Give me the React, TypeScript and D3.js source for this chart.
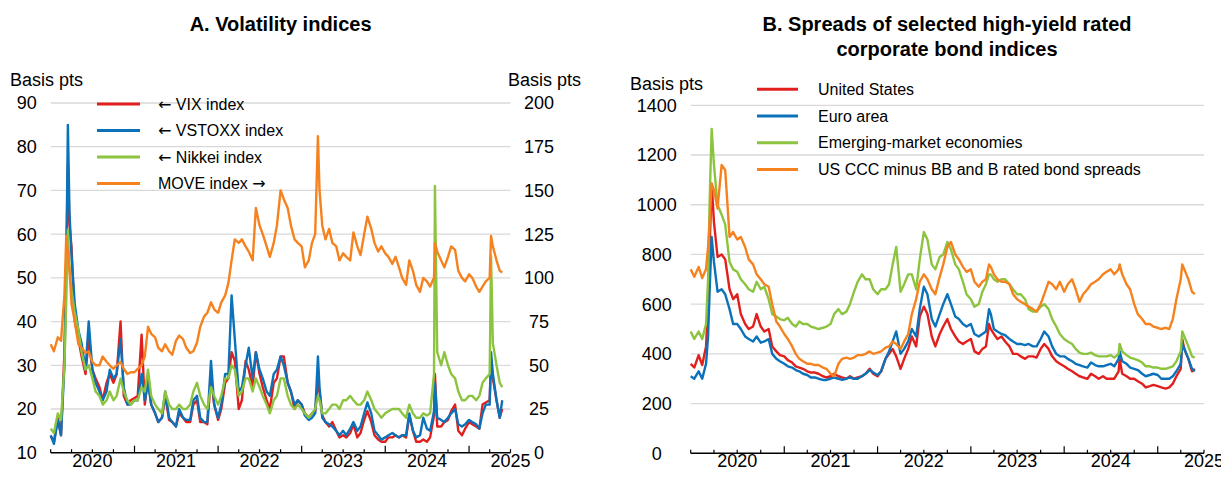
import React from 'react';
import * as d3 from 'd3';

const W = 1221;
const H = 478;
const FONT = '"Liberation Sans", Arial, Helvetica, sans-serif';
const ARROW_FONT = '"DejaVu Sans", sans-serif';

const RED = '#e1201d';
const BLUE = '#0b72b9';
const GREEN = '#8cc43f';
const ORANGE = '#f5821f';
const GRID = '#d9d9d9';

// shared observation dates (semi-monthly, plus a few stress days)
const dates = [
  // 2020
  '2020-01-01', '2020-01-15', '2020-02-01', '2020-02-15', '2020-03-01', '2020-03-09', '2020-03-16', '2020-03-23',
  '2020-04-01', '2020-04-15', '2020-05-01', '2020-05-15', '2020-06-01', '2020-06-15', '2020-07-01', '2020-07-15',
  '2020-08-01', '2020-08-15', '2020-09-01', '2020-09-15', '2020-10-01', '2020-10-15', '2020-11-01', '2020-11-15',
  '2020-12-01', '2020-12-15',
  // 2021
  '2021-01-01', '2021-01-15', '2021-02-01', '2021-02-15', '2021-03-01', '2021-03-15', '2021-04-01', '2021-04-15',
  '2021-05-01', '2021-05-15', '2021-06-01', '2021-06-15', '2021-07-01', '2021-07-15', '2021-08-01', '2021-08-15',
  '2021-09-01', '2021-09-15', '2021-10-01', '2021-10-15', '2021-11-01', '2021-11-15', '2021-12-01', '2021-12-15',
  // 2022
  '2022-01-01', '2022-01-15', '2022-02-01', '2022-02-15', '2022-03-01', '2022-03-15', '2022-04-01', '2022-04-15',
  '2022-05-01', '2022-05-15', '2022-06-01', '2022-06-15', '2022-07-01', '2022-07-15', '2022-08-01', '2022-08-15',
  '2022-09-01', '2022-09-15', '2022-10-01', '2022-10-15', '2022-11-01', '2022-11-15', '2022-12-01', '2022-12-15',
  // 2023
  '2023-01-01', '2023-01-15', '2023-02-01', '2023-02-15', '2023-03-01', '2023-03-13', '2023-03-20', '2023-04-01',
  '2023-04-15', '2023-05-01', '2023-05-15', '2023-06-01', '2023-06-15', '2023-07-01', '2023-07-15', '2023-08-01',
  '2023-08-15', '2023-09-01', '2023-09-15', '2023-10-01', '2023-10-15', '2023-11-01', '2023-11-15', '2023-12-01',
  '2023-12-15',
  // 2024
  '2024-01-01', '2024-01-15', '2024-02-01', '2024-02-15', '2024-03-01', '2024-03-15', '2024-04-01', '2024-04-15',
  '2024-05-01', '2024-05-15', '2024-06-01', '2024-06-15', '2024-07-01', '2024-07-15', '2024-08-01', '2024-08-05',
  '2024-08-15', '2024-09-01', '2024-09-15', '2024-10-01', '2024-10-15', '2024-11-01', '2024-11-15', '2024-12-01',
  '2024-12-15',
  // 2025
  '2025-01-01', '2025-01-15', '2025-02-01', '2025-02-15', '2025-03-01', '2025-03-15', '2025-04-01', '2025-04-07',
  '2025-04-15', '2025-05-01', '2025-05-15', '2025-05-26',
];

// Panel A: volatility indices
const vix = [
  13.8, 12.5, 18.0, 14.0, 33.0, 54.0, 76.0, 62.0, 57.0, 40.0, 36.0, 32.0, 28.0, 36.0, 29.0, 27.0, 25.0, 22.0, 26.0, 28.0, 26.0, 28.0, 40.0, 23.0, 21.0, 22.0,
  22.5, 23.0, 37.0, 21.0, 27.0, 21.0, 19.0, 17.0, 18.0, 23.0, 17.5, 17.0, 16.0, 19.0, 18.0, 17.0, 17.0, 21.0, 22.0, 17.0, 17.0, 16.5, 27.0, 21.0,
  17.5, 20.0, 26.0, 27.0, 33.0, 31.0, 20.0, 22.0, 31.0, 29.0, 25.0, 33.0, 28.0, 25.0, 22.0, 20.0, 26.0, 27.0, 32.0, 32.0, 26.0, 24.0, 20.0, 22.0,
  21.0, 19.0, 18.0, 19.0, 19.5, 26.5, 24.0, 18.5, 17.0, 16.0, 17.0, 15.0, 13.5, 14.0, 13.5, 14.5, 16.5, 13.5, 14.5, 17.5, 19.5, 17.0, 14.0, 13.0, 12.5,
  12.5, 13.5, 13.5, 14.0, 13.5, 14.0, 13.5, 18.5, 15.0, 12.5, 12.5, 13.0, 12.5, 13.5, 18.5, 28.0, 16.0, 16.0, 17.0, 17.5, 19.5, 21.0, 15.0, 14.0, 15.5,
  17.0, 16.5, 16.0, 15.5, 21.0, 21.5, 22.0, 31.0, 27.0, 22.0, 18.0, 20.0,
];
const vstoxx = [
  14.0, 12.0, 17.5, 14.0, 30.0, 52.0, 85.0, 65.0, 55.0, 44.0, 38.0, 35.0, 29.0, 40.0, 29.0, 26.0, 24.0, 22.0, 24.0, 29.0, 27.0, 28.0, 36.0, 25.0, 21.0, 21.0,
  22.0, 22.0, 28.0, 22.0, 26.0, 21.0, 19.0, 17.0, 18.0, 24.0, 18.0, 17.0, 16.0, 20.0, 18.0, 17.5, 17.5, 22.0, 23.0, 18.0, 17.0, 17.0, 31.0, 21.0,
  18.0, 21.0, 28.0, 28.0, 46.0, 36.0, 24.0, 25.0, 30.0, 34.0, 27.0, 33.0, 29.0, 27.0, 24.0, 23.0, 28.0, 29.0, 32.0, 30.0, 26.0, 24.0, 21.0, 22.0,
  21.0, 18.5, 17.5, 18.0, 19.0, 32.0, 25.0, 18.0, 17.0, 16.5, 16.0, 15.0, 14.0, 15.0, 14.0, 15.5, 17.0, 15.0, 16.0, 19.0, 21.5, 19.0, 15.0, 14.0, 13.0,
  13.5, 14.0, 14.5, 14.0, 13.5, 14.0, 14.0, 19.0, 15.0, 13.5, 14.0, 18.0, 15.5, 15.0, 19.5, 26.0, 18.0, 17.5, 17.0, 18.0, 19.0, 20.0, 16.5, 16.0, 16.5,
  17.5, 17.0, 16.5, 15.5, 19.0, 21.0, 21.0, 33.0, 28.0, 22.0, 18.0, 22.0,
];
const nikkei = [
  15.5, 14.5, 19.0, 17.5, 30.0, 45.0, 61.0, 52.0, 47.0, 42.0, 38.0, 33.0, 29.0, 30.0, 27.0, 24.0, 23.0, 21.0, 22.0, 24.0, 22.0, 23.0, 27.0, 24.0, 22.0, 21.0,
  22.0, 22.0, 25.0, 24.0, 29.0, 23.0, 21.0, 20.0, 19.0, 24.0, 21.0, 20.0, 20.0, 21.0, 20.0, 20.0, 21.0, 24.0, 26.0, 23.0, 21.0, 20.0, 25.0, 23.0,
  21.0, 23.0, 27.0, 27.0, 30.0, 29.0, 23.0, 24.0, 27.0, 27.0, 24.0, 27.0, 25.0, 23.0, 21.0, 19.0, 22.0, 23.0, 27.0, 27.0, 23.0, 21.0, 20.0, 21.0,
  20.0, 19.0, 18.0, 19.0, 20.0, 23.0, 22.0, 19.0, 19.0, 20.0, 21.0, 21.0, 20.0, 22.0, 22.0, 23.0, 22.0, 21.0, 21.0, 22.0, 24.0, 22.0, 20.0, 19.0, 18.0,
  19.0, 19.5, 20.0, 20.0, 20.0, 19.0, 18.0, 21.0, 19.0, 18.0, 18.0, 19.0, 18.5, 19.0, 28.0, 71.0, 33.0, 30.0, 33.0, 30.0, 28.0, 27.0, 24.0, 22.0, 22.0,
  23.0, 23.0, 22.0, 23.0, 26.0, 27.0, 28.0, 55.0, 35.0, 30.0, 26.0, 25.0,
];
const move = [
  62, 58, 66, 64, 90, 124, 115, 105, 85, 75, 62, 60, 57, 58, 52, 50, 50, 55, 52, 50, 48, 50, 52, 48, 45, 46,
  46, 48, 50, 55, 72, 68, 66, 60, 58, 62, 58, 56, 64, 67, 65, 60, 57, 58, 63, 72, 78, 80, 86, 82,
  80, 86, 90, 97, 110, 122, 120, 122, 118, 115, 110, 140, 130, 125, 118, 112, 120, 130, 150, 145, 140, 130, 122, 120,
  118, 106, 110, 120, 125, 181, 150, 130, 122, 128, 120, 118, 110, 114, 112, 110, 126, 118, 113, 125, 135, 128, 120, 115, 118,
  114, 112, 108, 112, 106, 100, 96, 110, 104, 96, 92, 100, 98, 95, 100, 120, 115, 110, 106, 112, 118, 116, 104, 100, 98,
  102, 100, 95, 92, 95, 98, 100, 124, 118, 110, 104, 103,
];

// Panel B: high-yield spreads
const usHY = [
  360, 345, 395, 355, 430, 600, 860, 1085, 930, 790, 800, 780, 660, 620, 640, 560, 520, 500, 510, 560, 510, 490, 500, 430, 410, 395,
  390, 375, 365, 350, 345, 340, 330, 325, 325, 320, 310, 305, 310, 320, 310, 305, 300, 310, 300, 305, 310, 320, 340, 320,
  310, 330, 380, 400, 420, 390, 340, 380, 420, 470, 430, 550, 590, 560, 470, 430, 480, 510, 540, 500, 470, 450, 440, 450,
  460, 410, 400, 420, 430, 520, 500, 480, 460, 470, 450, 430, 400, 400, 390, 380, 390, 390, 385, 420, 440, 420, 390, 370, 360,
  350, 340, 330, 320, 310, 305, 300, 320, 310, 300, 310, 300, 300, 300, 330, 380, 320, 310, 300, 300, 290, 280, 265, 270, 275,
  270, 265, 260, 265, 280, 310, 340, 460, 420, 380, 330, 340,
];
const euroHY = [
  310, 300, 330, 300, 360, 470, 680, 870, 770, 650, 660, 640, 580, 520, 520, 500, 470, 460, 450, 470, 445, 450, 460, 400, 380, 370,
  360, 350, 345, 335, 330, 320, 315, 305, 305, 300, 295, 295, 300, 305, 300, 295, 300, 305, 300, 300, 310, 320, 335, 325,
  315, 330, 380, 410, 450, 490, 400, 420, 450, 500, 470, 580, 670, 640, 540, 510, 560, 600, 640, 600, 550, 540, 520, 510,
  520, 480, 470, 480, 490, 580, 560, 500, 490, 480, 475, 460, 450, 440, 440, 435, 440, 430, 430, 460, 490, 470, 430, 400, 390,
  390, 380, 370, 360, 355, 350, 345, 365, 355, 350, 350, 355, 360, 350, 380, 410, 370, 360, 345, 340, 335, 320, 310, 315, 320,
  315, 300, 300, 300, 310, 330, 360, 440, 420, 380, 340, 330,
];
const emHY = [
  490, 460, 490, 460, 520, 700, 1050, 1305, 1160, 1000, 960, 920, 770, 740, 730, 700, 680, 660, 650, 690, 660, 670, 620, 560, 550, 540,
  535, 545, 520, 510, 530, 520, 520, 510, 505, 500, 505, 510, 520, 560, 580, 560, 570, 600, 650, 690, 720, 700, 700, 660,
  640, 660, 660, 680, 760, 830, 650, 680, 720, 720, 660, 780, 890, 860, 760, 740, 790, 800, 850, 820, 760, 740, 690, 640,
  620, 590, 600, 650, 680, 720, 720, 700, 690, 700, 700, 680, 660, 640, 640, 620, 580, 570, 570, 590, 600, 580, 540, 510, 480,
  460, 450, 440, 420, 405, 400, 400, 405, 395, 390, 390, 390, 395, 385, 400, 440, 410, 395, 385, 380, 375, 365, 350, 350, 345,
  345, 340, 340, 345, 350, 370, 410, 490, 470, 430, 390, 385,
];
const cccSpread = [
  740, 710, 750, 705, 740, 830, 950, 1085, 1060, 985, 1160, 1140, 870, 890, 860, 870, 830, 780, 760, 720, 700, 680, 670, 600, 530, 510,
  480, 460, 430, 400, 380, 370, 360, 360, 355, 355, 345, 340, 320, 310, 360, 380, 385, 380, 385, 395, 395, 400, 410, 400,
  405, 410, 425, 430, 450, 440, 420, 450, 480, 560, 620, 690, 720, 700, 660, 640, 710, 760, 830, 850, 800, 780, 750, 730,
  740, 690, 670, 690, 700, 760, 750, 720, 700, 690, 690, 680, 640, 620, 610, 600, 590, 580, 570, 600, 640, 690, 680, 660, 690,
  650, 680, 700, 660, 610, 640, 660, 680, 690, 700, 720, 730, 740, 720, 740, 760, 720, 680, 660, 600, 560, 540, 520, 520, 510,
  505, 500, 505, 500, 540, 620, 700, 760, 740, 700, 650, 640,
];

const yearLabels = ['2020', '2021', '2022', '2023', '2024', '2025'];
const leftTicksA = [10, 20, 30, 40, 50, 60, 70, 80, 90];
const rightTicksA = [0, 25, 50, 75, 100, 125, 150, 175, 200];
const ticksB = [0, 200, 400, 600, 800, 1000, 1200, 1400];

// arrow: 'l' = points to left axis, 'r' = points to right axis
const legendA = [
  { label: 'VIX index', arrow: 'l', color: RED },
  { label: 'VSTOXX index', arrow: 'l', color: BLUE },
  { label: 'Nikkei index', arrow: 'l', color: GREEN },
  { label: 'MOVE index', arrow: 'r', color: ORANGE },
];
const legendB = [
  { label: 'United States', color: RED },
  { label: 'Euro area', color: BLUE },
  { label: 'Emerging-market economies', color: GREEN },
  { label: 'US CCC minus BB and B rated bond spreads', color: ORANGE },
];

const parse = d3.timeParse('%Y-%m-%d');
const times = dates.map(d => parse(d) as Date);
const X0 = parse('2020-01-01') as Date;
const X1 = parse('2025-07-01') as Date;

function TimeAxis({ x, y }: { x: d3.ScaleTime<number, number>; y: number }) {
  const quarters = d3.timeMonth.every(3)!.range(X0, d3.timeDay.offset(X1, 1));
  const [l, r] = x.range();
  return (
    <g>
      <line x1={l} x2={r} y1={y} y2={y} stroke="#000" strokeWidth={1.6} />
      {quarters.map((q, i) => {
        const tall = q.getMonth() === 0 && i > 0;
        return <line key={i} x1={x(q)} x2={x(q)} y1={y} y2={y - (tall ? 7 : 3.5)} stroke="#000" strokeWidth={1.2} />;
      })}
      {yearLabels.map(yl => (
        <text key={yl} x={x(parse(`${yl}-07-01`) as Date)} y={y + 14} textAnchor="middle" fontSize={18} fill="#000">
          {yl}
        </text>
      ))}
    </g>
  );
}

function Series({ x, y, values, color }: any) {
  const line = d3.line<number>()
    .x((_, i) => x(times[i]))
    .y(v => y(v));
  return <path d={line(values) || ''} fill="none" stroke={color} strokeWidth={2.4} strokeLinejoin="round" />;
}

export default function App() {
  // panel A geometry
  const xA = d3.scaleTime().domain([X0, X1]).range([50.7, 510.5]);
  const yA = d3.scaleLinear().domain([10, 90]).range([452.7, 103]);
  const yA2 = d3.scaleLinear().domain([0, 200]).range([452.7, 103]);

  // panel B geometry
  const xB = d3.scaleTime().domain([X0, X1]).range([690.7, 1204]);
  const yB = d3.scaleLinear().domain([0, 1400]).range([453.3, 105.3]);

  return (
    <svg
      width={W}
      height={H}
      viewBox={`0 0 ${W} ${H}`}
      style={{ position: 'absolute', left: 0, top: 0, background: '#fff' }}
      fontFamily={FONT}
    >
      <rect width={W} height={H} fill="#fff" />

      {/* Panel A */}
      <text x={280.6} y={31} textAnchor="middle" fontSize={20} fontWeight="bold">A. Volatility indices</text>
      <text x={10} y={86} fontSize={18}>Basis pts</text>
      <text x={508} y={86} fontSize={18}>Basis pts</text>
      {leftTicksA.slice(1).map(t => (
        <line key={t} x1={50.7} x2={510.5} y1={yA(t)} y2={yA(t)} stroke={GRID} strokeWidth={1.3} />
      ))}
      {leftTicksA.map(t => (
        <text key={t} x={26.7} y={yA(t)} dy="0.36em" textAnchor="middle" fontSize={18}>{t}</text>
      ))}
      {rightTicksA.map(t => (
        <text key={t} x={539} y={yA2(t)} dy="0.36em" textAnchor="middle" fontSize={18}>{t}</text>
      ))}
      <Series x={xA} y={yA} values={vix} color={RED} />
      <Series x={xA} y={yA} values={vstoxx} color={BLUE} />
      <Series x={xA} y={yA} values={nikkei} color={GREEN} />
      <Series x={xA} y={yA2} values={move} color={ORANGE} />
      <TimeAxis x={xA} y={452.7} />
      {legendA.map((d, i) => (
        <g key={d.label} transform={`translate(0,${104 + i * 26.5})`}>
          <line x1={97} x2={140} y1={0} y2={0} stroke={d.color} strokeWidth={3} />
          <text x={158} y={0} dy="0.35em" fontSize={16}>
            {d.arrow === 'l' && <tspan fontFamily={ARROW_FONT}>{'\u2190'}</tspan>}
            {d.arrow === 'l' ? ` ${d.label}` : `${d.label} `}
            {d.arrow === 'r' && <tspan fontFamily={ARROW_FONT}>{'\u2192'}</tspan>}
          </text>
        </g>
      ))}

      {/* Panel B */}
      <text x={947} y={31} textAnchor="middle" fontSize={20} fontWeight="bold">B. Spreads of selected high-yield rated</text>
      <text x={947} y={56} textAnchor="middle" fontSize={20} fontWeight="bold">corporate bond indices</text>
      <text x={630} y={90} fontSize={18}>Basis pts</text>
      {ticksB.slice(1).map(t => (
        <line key={t} x1={690.7} x2={1204} y1={yB(t)} y2={yB(t)} stroke={GRID} strokeWidth={1.3} />
      ))}
      {ticksB.map(t => (
        <text key={t} x={656.7} y={yB(t)} dy="0.36em" textAnchor="middle" fontSize={18}>{t}</text>
      ))}
      <Series x={xB} y={yB} values={usHY} color={RED} />
      <Series x={xB} y={yB} values={euroHY} color={BLUE} />
      <Series x={xB} y={yB} values={emHY} color={GREEN} />
      <Series x={xB} y={yB} values={cccSpread} color={ORANGE} />
      <TimeAxis x={xB} y={453.3} />
      {legendB.map((d, i) => (
        <g key={d.label} transform={`translate(0,${89.3 + i * 26.7})`}>
          <line x1={757} x2={798} y1={0} y2={0} stroke={d.color} strokeWidth={3} />
          <text x={818} y={0} dy="0.35em" fontSize={16}>{d.label}</text>
        </g>
      ))}
    </svg>
  );
}
